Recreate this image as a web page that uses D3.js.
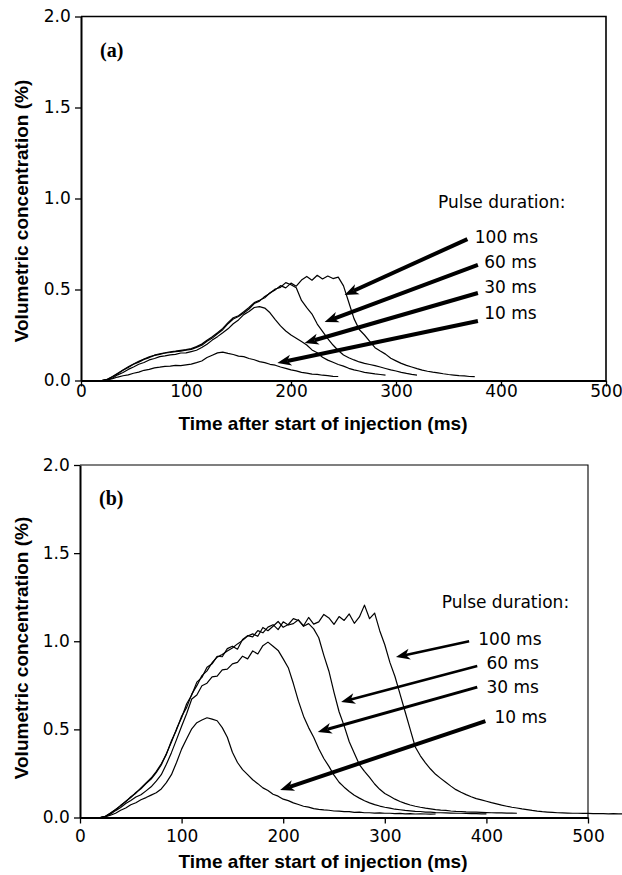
<!DOCTYPE html>
<html lang="en">
<head>
<meta charset="utf-8">
<title>Volumetric concentration after injection</title>
<script src="https://cdn.jsdelivr.net/npm/d3@7"></script>
<style>
  body { margin: 0; background: #fff; }
  svg { display: block; }
  .tick text { font-family: "DejaVu Sans", sans-serif; font-size: 17px; fill: #000; }
  .tick line { stroke: #000; stroke-width: 1.3; }
  .domain { stroke: #000; stroke-width: 2; }
  .axis-title { font-family: "Liberation Sans", Arial, sans-serif; font-weight: bold; font-size: 19px; }
  .note { font-family: "DejaVu Sans", sans-serif; font-size: 17px; }
  .panel-tag { font-family: "Liberation Serif", "Times New Roman", serif; font-weight: bold; font-size: 20px; }
</style>
</head>
<body>
<script>
// ---- data (time in ms, concentration in %) ----
var xTicks = [0, 100, 200, 300, 400, 500];
var yTicks = [0, 0.5, 1.0, 1.5, 2.0];
var pulseLabels = ["100 ms", "60 ms", "30 ms", "10 ms"];

var timesA = [0,5,10,15,20,25,30,35,40,45,50,55,60,65,70,75,80,85,90,95,100,105,110,115,120,125,130,135,140,145,150,155,160,165,170,175,180,185,190,195,200,205,210,215,220,225,230,235,240,245,250,255,260,265,270,275,280,285,290,295,300,305,310,315,320,325,330,335,340,345,350,355,360,365,370,375];

var a10 = [0,0,0,0,0,0.003,0.01,0.019,0.026,0.031,0.04,0.046,0.056,0.061,0.069,0.073,0.078,0.079,0.083,0.082,0.086,0.09,0.098,0.107,0.126,0.139,0.152,0.156,0.149,0.143,0.134,0.131,0.121,0.114,0.104,0.098,0.089,0.084,0.074,0.067,0.058,0.053,0.045,0.041,0.035,0.034,0.029,0.027,0.023,0.022];
var a30 = [0,0,0,0,0,0.004,0.014,0.031,0.044,0.061,0.074,0.089,0.099,0.113,0.121,0.131,0.135,0.141,0.144,0.151,0.152,0.159,0.166,0.181,0.199,0.222,0.241,0.262,0.284,0.312,0.333,0.362,0.379,0.401,0.406,0.398,0.372,0.335,0.3,0.272,0.25,0.232,0.214,0.195,0.168,0.152,0.128,0.112,0.1,0.088,0.079,0.067,0.058,0.052,0.045,0.041,0.036,0.033,0.03];
var a60 = [0,0,0,0,0,0.006,0.021,0.037,0.056,0.071,0.089,0.101,0.116,0.126,0.138,0.144,0.151,0.154,0.159,0.161,0.167,0.171,0.182,0.194,0.216,0.233,0.257,0.279,0.312,0.338,0.352,0.371,0.393,0.423,0.436,0.462,0.479,0.503,0.512,0.538,0.526,0.51,0.44,0.4,0.365,0.31,0.27,0.23,0.195,0.165,0.14,0.125,0.113,0.102,0.094,0.088,0.082,0.074,0.066,0.058,0.052,0.045,0.039,0.034,0.03];
var a100 = [0,0,0,0,0,0.007,0.022,0.04,0.058,0.075,0.091,0.106,0.118,0.13,0.139,0.147,0.152,0.158,0.161,0.166,0.17,0.176,0.186,0.2,0.221,0.24,0.262,0.286,0.318,0.345,0.356,0.378,0.401,0.428,0.441,0.455,0.482,0.498,0.521,0.509,0.535,0.518,0.552,0.572,0.551,0.578,0.558,0.574,0.56,0.568,0.52,0.43,0.34,0.28,0.25,0.215,0.18,0.162,0.145,0.122,0.108,0.094,0.083,0.074,0.065,0.057,0.051,0.046,0.042,0.037,0.033,0.03,0.027,0.025,0.022,0.021];

var timesB = [0,5,10,15,20,25,30,35,40,45,50,55,60,65,70,75,80,85,90,95,100,105,110,115,120,125,130,135,140,145,150,155,160,165,170,175,180,185,190,195,200,205,210,215,220,225,230,235,240,245,250,255,260,265,270,275,280,285,290,295,300,305,310,315,320,325,330,335,340,345,350,355,360,365,370,375,380,385,390,395,400,405,410,415,420,425,430,435,440,445,450,455,460,465,470,475,480,485,490,495,500,505,510,515,520,525,530,535];

var b10 = [0,0,0,0,0,0.004,0.013,0.024,0.041,0.054,0.072,0.084,0.101,0.113,0.127,0.14,0.162,0.198,0.243,0.312,0.388,0.447,0.503,0.538,0.553,0.566,0.558,0.549,0.51,0.455,0.37,0.312,0.272,0.243,0.214,0.192,0.168,0.153,0.132,0.121,0.104,0.096,0.083,0.074,0.064,0.059,0.05,0.046,0.043,0.041,0.037,0.036,0.033,0.033,0.029,0.03,0.027,0.027,0.025,0.026,0.024,0.024,0.022,0.023,0.021,0.022,0.02,0.021,0.02,0.019,0.02];
var b30 = [0,0,0,0,0,0.005,0.019,0.039,0.057,0.079,0.097,0.116,0.129,0.151,0.174,0.206,0.243,0.302,0.368,0.442,0.518,0.59,0.672,0.695,0.748,0.762,0.798,0.802,0.838,0.842,0.872,0.88,0.915,0.9,0.945,0.928,0.975,0.995,0.972,0.948,0.9,0.85,0.76,0.66,0.575,0.51,0.455,0.39,0.335,0.29,0.24,0.2,0.172,0.148,0.126,0.11,0.095,0.083,0.073,0.065,0.058,0.053,0.047,0.044,0.04,0.038,0.035,0.034,0.031,0.03,0.028,0.027,0.026,0.025,0.024,0.024,0.023,0.022,0.022,0.021,0.021];
var b60 = [0,0,0,0,0,0.006,0.024,0.046,0.066,0.092,0.113,0.142,0.163,0.192,0.218,0.255,0.298,0.362,0.428,0.503,0.566,0.645,0.695,0.768,0.795,0.852,0.872,0.915,0.912,0.958,0.972,0.955,1.01,1.032,1.025,1.06,1.048,1.08,1.094,1.066,1.11,1.092,1.1,1.122,1.085,1.1,1.07,1.02,0.92,0.83,0.71,0.6,0.52,0.43,0.365,0.3,0.262,0.228,0.19,0.16,0.136,0.12,0.104,0.091,0.08,0.071,0.064,0.058,0.053,0.049,0.045,0.042,0.04,0.037,0.035,0.034,0.032,0.031,0.03,0.029,0.028,0.027,0.026,0.026,0.025,0.025,0.024];
var b100 = [0,0,0,0,0,0.007,0.026,0.044,0.069,0.089,0.118,0.138,0.168,0.196,0.224,0.26,0.305,0.358,0.435,0.497,0.574,0.625,0.7,0.748,0.805,0.832,0.878,0.91,0.925,0.945,0.962,0.985,1.005,1.03,1.042,1.028,1.078,1.06,1.085,1.112,1.079,1.095,1.128,1.118,1.088,1.135,1.097,1.11,1.152,1.132,1.096,1.14,1.118,1.155,1.102,1.138,1.205,1.128,1.16,1.06,0.98,0.88,0.8,0.7,0.6,0.5,0.4,0.35,0.31,0.275,0.245,0.222,0.2,0.178,0.158,0.143,0.13,0.118,0.107,0.1,0.092,0.084,0.077,0.07,0.064,0.058,0.054,0.049,0.045,0.04,0.036,0.033,0.031,0.029,0.027,0.026,0.025,0.024,0.024,0.023,0.023,0.022,0.022,0.022,0.021,0.022,0.021,0.021];

// arrow annotations, data coordinates: [tailX, tailY, tipX, tipY]
var arrowsA = [[368, 0.777, 251, 0.47], [378, 0.635, 232, 0.321], [378, 0.481, 213, 0.206], [378, 0.327, 187, 0.096]];
var arrowsB = [[383, 1.0, 311, 0.91], [391, 0.859, 257, 0.655], [391, 0.74, 234, 0.485], [399, 0.547, 197, 0.156]];
// label anchors (left edge, vertical centre), data coordinates
var labelsA = [[375, 0.788], [384, 0.651], [384, 0.514], [384, 0.371]];
var labelsB = [[392, 1.012], [400, 0.876], [400, 0.74], [408, 0.57]];
var headerA = [340, 0.98];
var headerB = [356, 1.222];

// ---- layout ----
var w = 622, h = 875;
var svg = d3.select("body").append("svg").attr("width", w).attr("height", h);

var panels = [
  { tag: "(a)", times: timesA, series: [a100, a60, a30, a10], arrows: arrowsA, labels: labelsA, header: headerA,
    left: 81, right: 606, top: 16.5, bottom: 380.5, xPad: -1.5, frameW: 1.6,
    arrowW: [4, 4, 4, 4], titleX: 323, titleY: 430, yTitleY: 211, tagY: 57 },
  { tag: "(b)", times: timesB, series: [b100, b60, b30, b10], arrows: arrowsB, labels: labelsB, header: headerB,
    left: 80, right: 588, top: 465, bottom: 817.5, xPad: 6.5, frameW: 1.1,
    arrowW: [2.6, 2.6, 3, 4], titleX: 323, titleY: 868, yTitleY: 648, tagY: 505 }
];

function drawArrow(g, x1, y1, x2, y2, sw) {
  var dx = x2 - x1, dy = y2 - y1, len = Math.sqrt(dx * dx + dy * dy);
  var ux = dx / len, uy = dy / len, nx = -uy, ny = ux;
  var L = 14, H = 11;
  var bx = x2 - ux * L, by = y2 - uy * L;
  var mx = x2 - ux * L * 0.72, my = y2 - uy * L * 0.72;
  g.append("line")
    .attr("x1", x1).attr("y1", y1).attr("x2", mx).attr("y2", my)
    .attr("stroke", "#000").attr("stroke-width", sw);
  g.append("path")
    .attr("d", "M" + x2 + "," + y2 +
      "L" + (bx + nx * H / 2) + "," + (by + ny * H / 2) +
      "L" + mx + "," + my +
      "L" + (bx - nx * H / 2) + "," + (by - ny * H / 2) + "Z")
    .attr("fill", "#000");
}

panels.forEach(function(p) {
  var x = d3.scaleLinear().domain([0, 500]).range([p.left, p.right]);
  var y = d3.scaleLinear().domain([0, 2]).range([p.bottom, p.top]);
  var g = svg.append("g");

  // top and right frame
  g.append("path")
    .attr("d", "M" + p.left + "," + y(2) + "H" + x(500) + "V" + y(0))
    .attr("fill", "none").attr("stroke", "#000").attr("stroke-width", p.frameW);

  // curves
  var line = d3.line()
    .x(function(d, i) { return x(p.times[i]); })
    .y(function(d) { return y(d); });
  p.series.forEach(function(s) {
    g.append("path")
      .datum(s)
      .attr("d", line)
      .attr("fill", "none")
      .attr("stroke", "#000")
      .attr("stroke-width", 1.2)
      .attr("stroke-linejoin", "round");
  });

  // axes
  g.append("g")
    .attr("transform", "translate(0," + p.bottom + ")")
    .call(d3.axisBottom(x).tickValues(xTicks).tickSize(6).tickSizeOuter(0)
      .tickPadding(p.xPad).tickFormat(d3.format("d")));
  g.append("g")
    .attr("transform", "translate(" + p.left + ",0)")
    .call(d3.axisLeft(y).tickValues(yTicks).tickSize(6).tickSizeOuter(0)
      .tickPadding(4.3).tickFormat(d3.format(".1f")));

  // axis titles
  g.append("text").attr("class", "axis-title")
    .attr("x", p.titleX).attr("y", p.titleY)
    .attr("text-anchor", "middle")
    .text("Time after start of injection (ms)");
  g.append("text").attr("class", "axis-title")
    .attr("transform", "translate(28," + p.yTitleY + ") rotate(-90)")
    .attr("text-anchor", "middle")
    .text("Volumetric concentration (%)");

  // panel tag
  g.append("text").attr("class", "panel-tag")
    .attr("x", p.left + 19).attr("y", p.tagY)
    .text(p.tag);

  // legend text and arrows
  g.append("text").attr("class", "note")
    .attr("x", x(p.header[0])).attr("y", y(p.header[1]))
    .attr("dy", "0.36em")
    .text("Pulse duration:");
  p.labels.forEach(function(l, i) {
    g.append("text").attr("class", "note")
      .attr("x", x(l[0])).attr("y", y(l[1]))
      .attr("dy", "0.36em")
      .text(pulseLabels[i]);
  });
  p.arrows.forEach(function(a, i) {
    drawArrow(g, x(a[0]), y(a[1]), x(a[2]), y(a[3]), p.arrowW[i]);
  });
});
</script>
</body>
</html>
